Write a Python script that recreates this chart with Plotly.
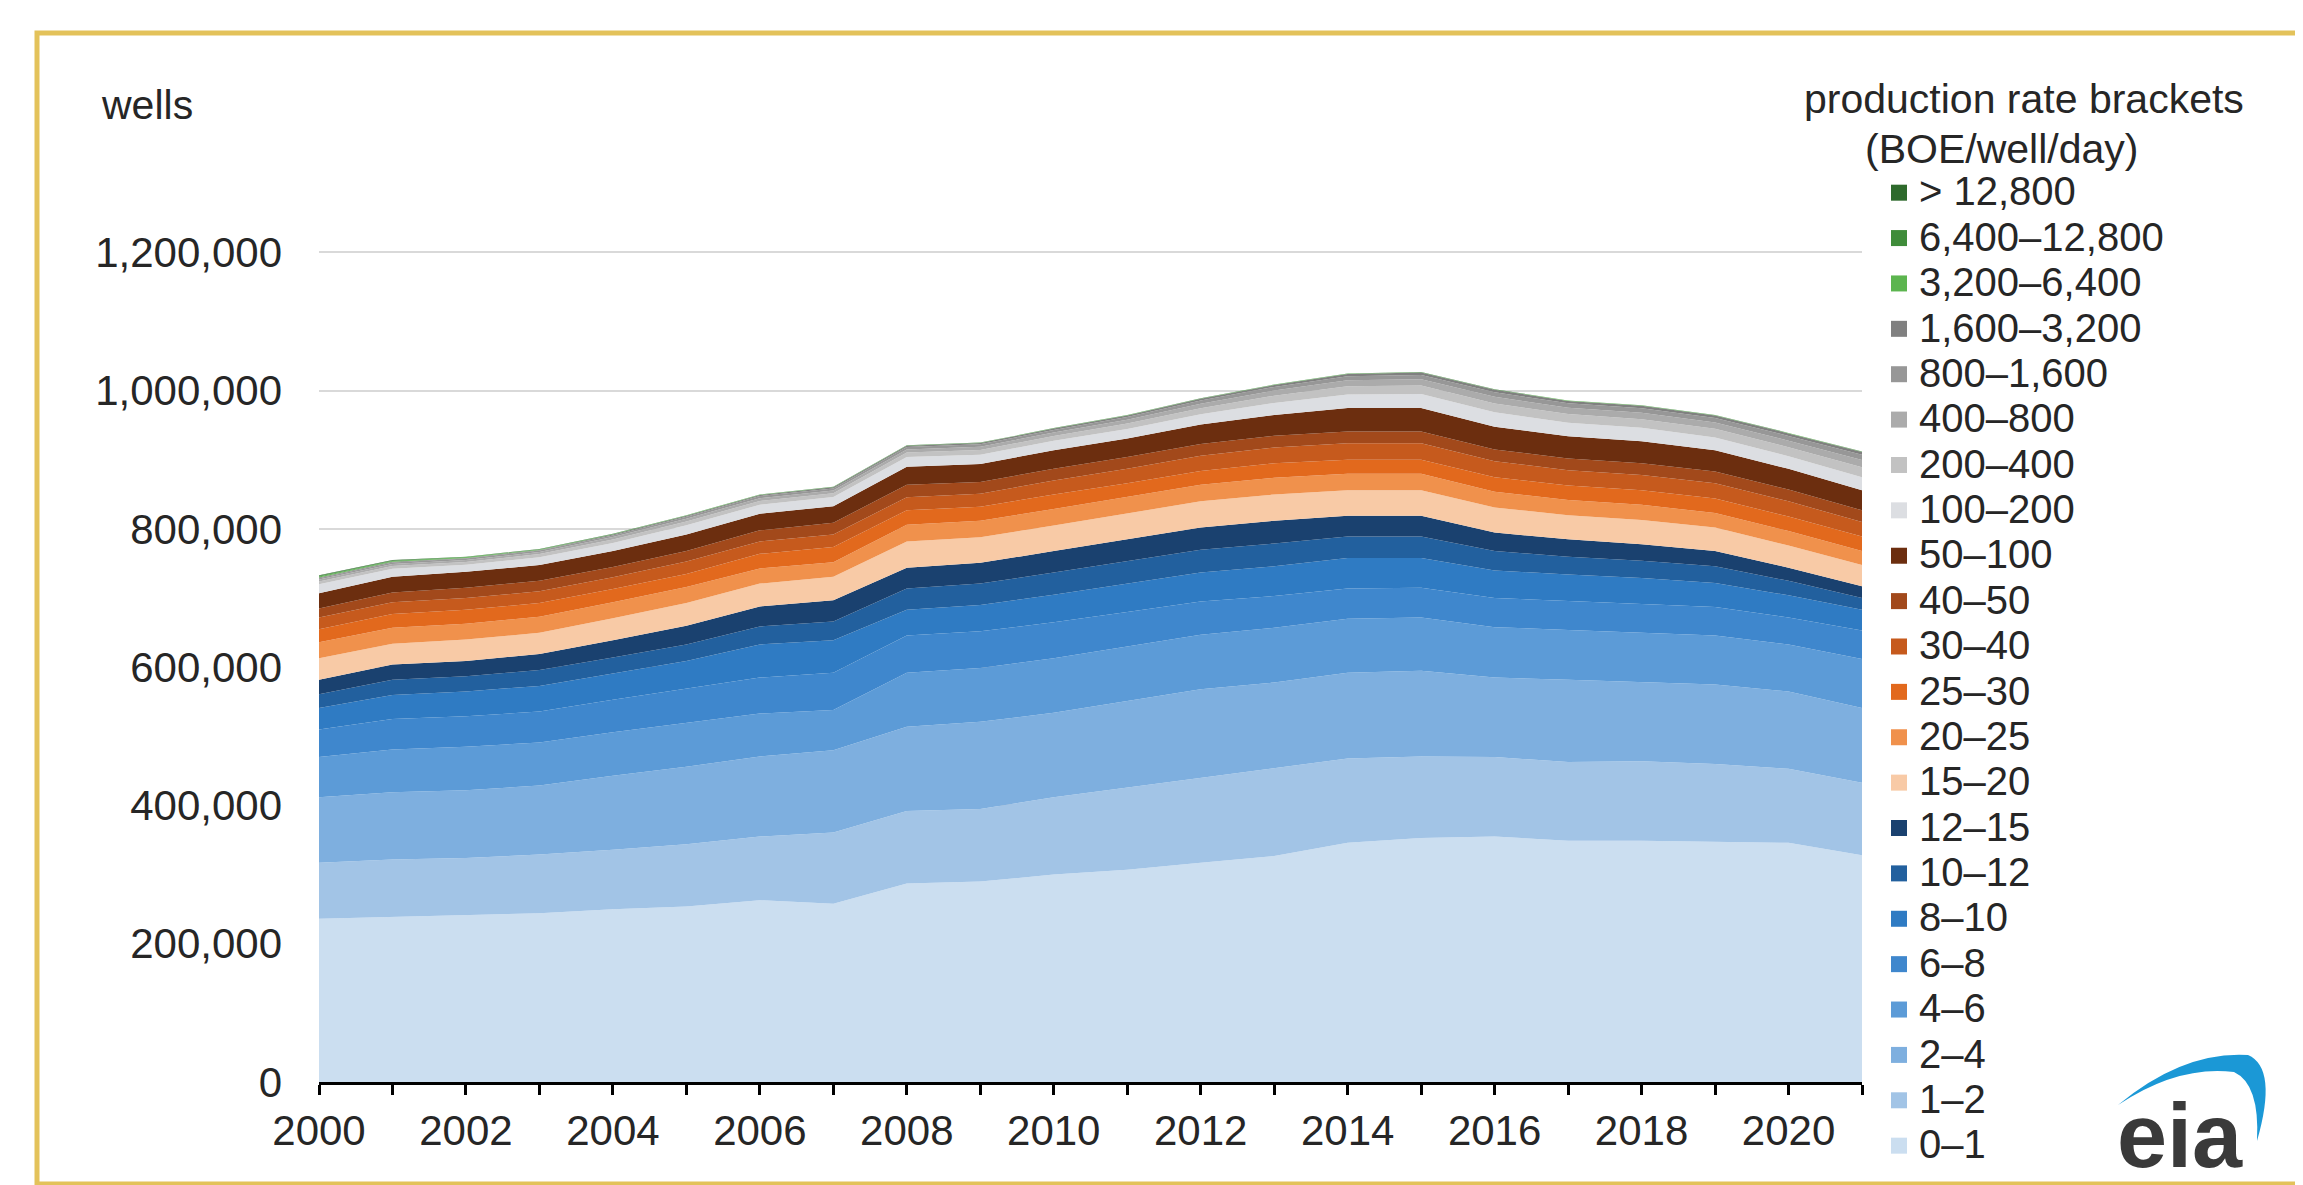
import plotly.graph_objects as go

# ---------------- data (thousands of wells) ----------------
years = [2000, 2001, 2002, 2003, 2004, 2005, 2006, 2007, 2008, 2009, 2010,
         2011, 2012, 2013, 2014, 2015, 2016, 2017, 2018, 2019, 2020, 2021]

brackets = ["0–1", "1–2", "2–4", "4–6", "6–8", "8–10", "10–12", "12–15",
            "15–20", "20–25", "25–30", "30–40", "40–50", "50–100",
            "100–200", "200–400", "400–800", "800–1,600", "1,600–3,200",
            "3,200–6,400", "6,400–12,800", "> 12,800"]

b0_1 = [236, 239, 241, 244, 250, 254, 263, 258, 287, 290, 300, 307, 317, 327, 346, 353, 355, 349, 349, 348, 346, 328]
b1_2 = [81, 83, 83, 85, 86, 90, 92, 103, 105, 105, 112, 119, 122, 126, 122, 118, 115, 114, 115, 112, 107, 105]
b2_4 = [95, 97, 98, 100, 107, 112, 116, 119, 122, 126, 122, 125, 129, 125, 124, 124, 115, 119, 114, 115, 112, 108]
b4_6 = [58, 62, 63, 62, 63, 64, 62, 58, 78, 78, 79, 79, 79, 79, 78, 77, 73, 72, 72, 71, 68, 71]
b6_8 = [40, 44, 44, 45, 47, 49, 52, 54, 54, 53, 52, 50, 48, 46, 44, 43, 42, 42, 42, 41, 39, 41]
b8_10 = [31, 35, 36, 37, 38, 40, 48, 47, 37, 38, 40, 41, 42, 43, 44, 43, 40, 38, 37, 35, 32, 30]
b10_12 = [20, 22, 22, 23, 23, 24, 26, 27, 31, 31, 32, 32, 33, 33, 31, 31, 28, 26, 25, 24, 21, 17]
b12_15 = [21, 22, 22, 23, 25, 27, 29, 31, 30, 30, 31, 32, 32, 33, 30, 30, 27, 25, 24, 22, 19, 17]
b15_20 = [31, 30, 31, 31, 32, 33, 33, 34, 38, 37, 37, 37, 38, 38, 37, 37, 36, 35, 35, 34, 32, 31]
b20_25 = [23, 23, 23, 23, 23, 23, 22, 21, 24, 24, 24, 24, 24, 24, 24, 24, 23, 22, 22, 21, 21, 20]
b25_30 = [19, 20, 20, 20, 19, 19, 21, 22, 21, 20, 21, 20, 20, 21, 20, 20, 21, 21, 21, 21, 21, 21]
b30_40 = [17, 17, 17, 17, 17, 18, 18, 18, 19, 19, 20, 21, 22, 23, 24, 24, 23, 22, 22, 22, 22, 21]
b40_50 = [13, 14, 15, 15, 15, 15, 16, 17, 18, 17, 17, 17, 17, 17, 17, 17, 17, 17, 17, 17, 17, 17]
b50_100 = [22, 23, 23, 23, 23, 24, 24, 24, 26, 26, 27, 27, 28, 30, 34, 34, 33, 32, 32, 31, 30, 29]
b100_200 = [12.9, 11.5, 10.2, 11.2, 11.8, 13.4, 13.1, 13.2, 14.0, 13.5, 13.6, 13.6, 14.8, 17.3, 19.6, 20.1, 20.7, 19.8, 19.4, 18.4, 18.3, 18.8]
b200_400 = [4, 4, 4, 4.5, 5, 5.5, 5.5, 5.5, 6.5, 6.6, 7, 8, 9, 10.5, 12, 12.5, 13, 12.5, 12.5, 12.5, 13, 14.5]
b400_800 = [3, 3, 3, 3, 3.5, 4, 4, 4, 4.6, 4.8, 5, 5.5, 6.5, 7.5, 8.5, 9, 9.5, 9, 9.2, 9.2, 9.5, 10.5]
b800_1600 = [2, 2, 2, 2, 2.4, 2.8, 3, 3, 3.4, 3.5, 3.7, 4, 4.5, 5.2, 6, 6.3, 6.6, 6.5, 6.6, 6.6, 6.8, 7.5]
b1600_3200 = [1, 1, 1, 1, 1.2, 1.4, 1.5, 1.6, 1.8, 1.9, 2, 2.2, 2.5, 2.8, 3.2, 3.4, 3.5, 3.5, 3.6, 3.6, 3.7, 4]
b3200_6400 = [1.5, 1.2, 0.9, 0.7, 0.6, 0.5, 0.5, 0.4, 0.4, 0.4, 0.4, 0.4, 0.4, 0.4, 0.4, 0.4, 0.4, 0.4, 0.4, 0.4, 0.4, 0.4]
b6400_12800 = [1.0, 0.8, 0.6, 0.4, 0.3, 0.3, 0.3, 0.2, 0.2, 0.2, 0.2, 0.2, 0.2, 0.2, 0.2, 0.2, 0.2, 0.2, 0.2, 0.2, 0.2, 0.2]
b12800_up = [0.6, 0.5, 0.3, 0.2, 0.2, 0.1, 0.1, 0.1, 0.1, 0.1, 0.1, 0.1, 0.1, 0.1, 0.1, 0.1, 0.1, 0.1, 0.1, 0.1, 0.1, 0.1]

series = [b0_1, b1_2, b2_4, b4_6, b6_8, b8_10, b10_12, b12_15, b15_20, b20_25,
          b25_30, b30_40, b40_50, b50_100, b100_200, b200_400, b400_800,
          b800_1600, b1600_3200, b3200_6400, b6400_12800, b12800_up]

y_ticks = [0, 200000, 400000, 600000, 800000, 1000000, 1200000]

# ---------------- style ----------------
colors = ["#cbdef0", "#a2c4e6", "#7eafdf", "#5c9bd7", "#3f87cd", "#2f7bc3",
          "#22609e", "#1a416f",
          "#f8caa6", "#f0914c", "#e2691d", "#c65a1d", "#a2491b", "#6c2e0f",
          "#dcdee2", "#c2c2c2", "#ababab", "#979797", "#808080",
          "#5cb54f", "#3f8c3a", "#2e6a2c"]

W, H = 2303, 1185
L, R, T, B = 311, 1854, 203, 1074
FONT = "Liberation Sans, Arial, Helvetica, sans-serif"
TXT = "#262626"


def px(x):
    return (x - L) / (R - L)


def py(y):
    return (B - y) / (B - T)


fig = go.Figure()
for name, vals, col in zip(brackets, series, colors):
    fig.add_trace(go.Scatter(
        x=years, y=[v * 1000 for v in vals], name=name, stackgroup="wells",
        mode="lines", line=dict(width=0, color=col), fillcolor=col,
        showlegend=False, hoverinfo="skip", legendgroup=name))

for name, col in reversed(list(zip(brackets, colors))):
    fig.add_trace(go.Scatter(
        x=[None], y=[None], mode="markers", legendgroup=name,
        name=f'<span style="font-size:40px">{name}</span>',
        marker=dict(symbol="square", size=16, color=col), showlegend=True))

fig.update_layout(
    width=W, height=H, autosize=False,
    margin=dict(l=L, r=W - R, t=T, b=H - B, pad=0),
    paper_bgcolor="white", plot_bgcolor="white",
    font=dict(family=FONT, size=42, color=TXT),
    showlegend=True,
    legend=dict(x=px(1871), y=py(157), xanchor="left", yanchor="top",
                font=dict(family=FONT, size=32.6, color=TXT),
                bgcolor="rgba(0,0,0,0)", borderwidth=0,
                tracegroupgap=0, itemsizing="trace", maxheight=1150),
    xaxis=dict(range=[2000, 2021], tickmode="array", tickvals=years,
               ticktext=[str(y) if y % 2 == 0 else "" for y in years],
               ticks="outside", ticklen=10, tickwidth=2.5, tickcolor="black",
               showline=True, linecolor="black", linewidth=3,
               showgrid=False, zeroline=False,
               tickfont=dict(family=FONT, size=42, color=TXT)),
    yaxis=dict(range=[0, 1260000], tickmode="array", tickvals=y_ticks,
               tickformat=",d", showgrid=True, gridcolor="#d9d9d9",
               gridwidth=2, zeroline=False, showline=False, ticks="",
               ticklabelstandoff=36,
               tickfont=dict(family=FONT, size=42, color=TXT)),
)

annotations = [
    dict(text="wells", x=px(91), y=py(97), xanchor="left", yanchor="middle",
         font=dict(family=FONT, size=41, color=TXT)),
    dict(text="production rate brackets", x=px(2016), y=py(91),
         xanchor="center", yanchor="middle",
         font=dict(family=FONT, size=41, color=TXT)),
    dict(text="(BOE/well/day)", x=px(1993), y=py(141),
         xanchor="center", yanchor="middle",
         font=dict(family=FONT, size=41, color=TXT)),
    dict(text="<b>eia</b>", x=px(2172), y=py(1128), xanchor="center",
         yanchor="middle",
         font=dict(family=FONT, size=90, color="#3a3a3a")),
]
for a in annotations:
    a.update(xref="paper", yref="paper", showarrow=False)
fig.update_layout(annotations=annotations)


def pt(x, y):
    return f"{px(x):.5f},{py(y):.5f}"


crescent = (f"M {pt(2110, 1097)} Q {pt(2175, 1043)} {pt(2240, 1047)} "
            f"Q {pt(2270, 1060)} {pt(2249, 1133)} "
            f"Q {pt(2252, 1076)} {pt(2226, 1064)} "
            f"Q {pt(2170, 1057)} {pt(2110, 1097)} Z")

fig.update_layout(shapes=[
    dict(type="rect", xref="paper", yref="paper",
         x0=px(29), x1=px(2291), y0=py(1176), y1=py(25),
         line=dict(color="#e3c25a", width=5), fillcolor="rgba(0,0,0,0)"),
    dict(type="path", xref="paper", yref="paper", path=crescent,
         fillcolor="#1b98d6", line=dict(width=0)),
])

fig.write_html("out.html")
